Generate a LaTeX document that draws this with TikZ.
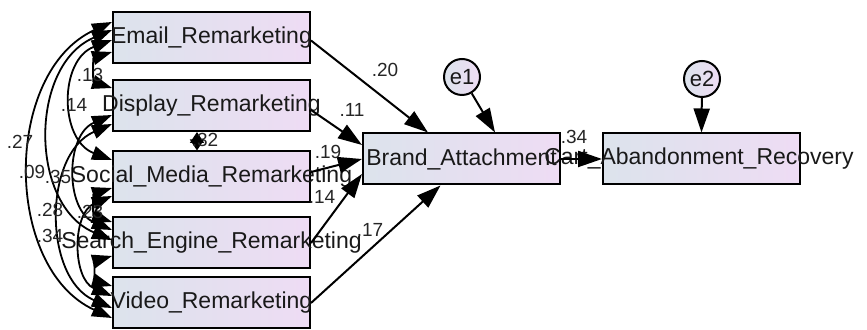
\documentclass[tikz,border=0pt]{standalone}
\usepackage{fontspec}
\setmainfont{Liberation Sans}
\usetikzlibrary{arrows.meta,shapes.geometric}
\definecolor{boxL}{HTML}{DCE3EC}
\definecolor{boxR}{HTML}{EEDCF4}
\tikzset{
  obs/.style={draw=black, line width=1pt, left color=boxL, right color=boxR,
    minimum width=98.5pt, minimum height=25.5pt, inner sep=0pt},
  txt/.style={font=\fontsize{11.5}{13}\selectfont, text=black!90, inner sep=0pt},
  err/.style={circle, draw=black, line width=1pt, left color=boxL, right color=boxR,
    minimum size=18pt, inner sep=0pt, font=\fontsize{11}{13}\selectfont, text=black!90},
  lab/.style={font=\fontsize{9.5}{10}\selectfont, text=black!85, inner sep=0pt},
  reg/.style={draw=black, line width=1pt, -{Triangle[length=12pt,width=8pt]}},
  cov/.style={draw=black, line width=0.9pt,
    {Triangle[length=10pt,width=7pt]}-{Triangle[length=10pt,width=7pt]}},
  covs/.style={draw=black, line width=0.9pt,
    {Triangle[length=5.5pt,width=7pt]}-{Triangle[length=5.5pt,width=7pt]}},
}
\begin{document}
\begin{tikzpicture}[x=0.5pt,y=-0.5pt]
\useasboundingbox (0,0) rectangle (867,330);

% observed boxes
\node[obs] (email)   at (211.5,37.5) {};
\node[obs] (display) at (211.5,105.5) {};
\node[obs] (social)  at (211.5,177) {};
\node[obs] (search)  at (211.5,243) {};
\node[obs] (video)   at (211.5,303) {};
\node[obs] (brand)   at (461.5,159) {};
\node[obs] (cart)    at (701.5,159) {};
\node[err] (e1) at (462,77) {e1};
\node[err] (e2) at (702,79) {e2};

% texts
\node[txt] (emailT)   at (email)   {Email\_Remarketing};
\node[txt] (displayT) at (display) {Display\_Remarketing};
\node[txt] (socialT)  at (social)  {Social\_Media\_Remarketing};
\node[txt] (searchT)  at (search)  {Search\_Engine\_Remarketing};
\node[txt] (videoT)   at (video)   {Video\_Remarketing};
\node[txt] (brandT)   at (brand)   {Brand\_Attachment};
\node[txt] (cartT)    at (699,159) {Cart\_Abandonment\_Recovery};

% regression paths
\draw[reg] ([yshift=-1.5pt]email.east) -- ([xshift=-16.75pt]brand.north);
\draw[reg] ([yshift=-2.25pt]display.east) -- ([yshift=7pt]brand.west);
\draw[reg] ([yshift=2.5pt]social.east) -- (brand.west);
\draw[reg] (search.east) -- ([yshift=-7.5pt]brand.west);
\draw[reg] (video.east) -- ([xshift=-10.5pt]brand.south);
\draw[reg] (e1) -- ([xshift=16.75pt]brand.north);
\draw[reg] (brand.east) -- (cart.west);
\draw[reg] (e2) -- (cart.north);

% regression labels
\node[lab] (l20) at (385,70) {.20};
\node[lab] (l11) at (352,110) {.11};
\node[lab] (l19) at (328,152) {.19};
\node[lab] (l14) at (322,197) {.14};
\node[lab] (l17) at (370,230) {.17};
\node[lab] (l34) at (574,137) {.34};

% covariances
\draw[cov] ([yshift=-7.25pt]email.west) .. controls +(-19,6) and +(-19,-6) .. ([yshift=8.75pt]display.west);
\draw[cov] ([yshift=-1.25pt]email.west) .. controls +(-53,20) and +(-53,-20) .. ([yshift=8.5pt]social.west);
\draw[cov] ([yshift=3.75pt]email.west) .. controls +(-83,35) and +(-83,-35) .. ([yshift=1.5pt]search.west);
\draw[cov] ([yshift=7.75pt]email.west) .. controls +(-109,50) and +(-109,-50) .. ([yshift=-7.5pt]video.west);
\draw[cov] ([yshift=-4.75pt]display.west) .. controls +(-47,20) and +(-47,-20) .. ([yshift=6.5pt]search.west);
\draw[cov] ([yshift=-9.25pt]display.west) .. controls +(-69,30) and +(-69,-30) .. ([yshift=-2.5pt]video.west);
\draw[cov] ([yshift=-5.5pt]social.west) .. controls +(-19,6) and +(-19,-6) .. ([yshift=10.5pt]search.west);
\draw[cov] ([yshift=-9.5pt]social.west) .. controls +(-40,17) and +(-40,-17) .. ([yshift=3.5pt]video.west);
\draw[cov] ([yshift=-6.5pt]search.west) .. controls +(-17,5) and +(-17,-5) .. ([yshift=8.5pt]video.west);
\draw[covs] ([xshift=-7.25pt]display.south) -- ([xshift=-7.25pt]social.north);

% covariance labels
\node[lab] (c27) at (20,142) {.27};
\node[lab] (c09) at (32,172) {.09};
\node[lab] (c35) at (58,177) {.35};
\node[lab] (c14) at (74,105) {.14};
\node[lab] (c13) at (90,75) {.13};
\node[lab] (c28) at (50,210) {.28};
\node[lab] (c23) at (90,212) {.23};
\node[lab] (c34) at (50,236) {.34};
\node[lab] (c32) at (205,140) {.32};
\end{tikzpicture}
\end{document}
